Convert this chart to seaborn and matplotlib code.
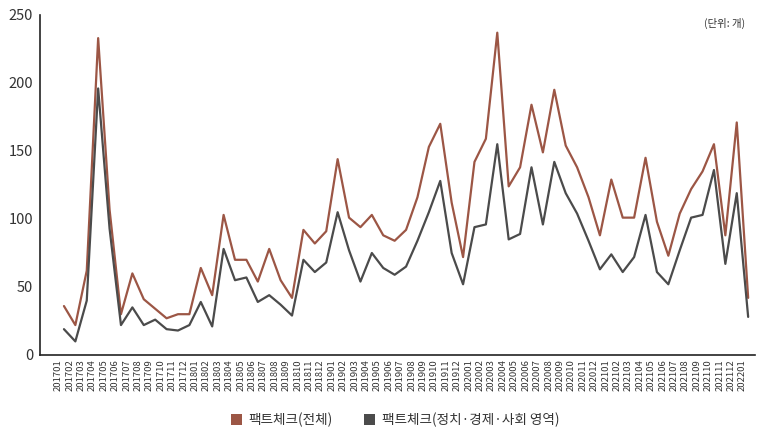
import numpy as np
import pandas as pd
import matplotlib
matplotlib.use("Agg")
import matplotlib.pyplot as plt
from matplotlib.patches import Patch
import seaborn as sns

# monthly labels 201701 .. 202201
months = [f"{y}{m:02d}" for y in range(2017, 2022) for m in range(1, 13)] + ["202201"]

total = [36, 22, 62, 233, 107, 30, 60, 41, 34, 27, 30, 30,
         64, 44, 103, 70, 70, 54, 78, 55, 42, 92, 82, 91,
         144, 101, 94, 103, 88, 84, 92, 116, 153, 170, 112, 72,
         142, 159, 237, 124, 138, 184, 149, 195, 154, 138, 116, 88,
         129, 101, 101, 145, 98, 73, 104, 122, 135, 155, 88, 171,
         42]

politics = [19, 10, 40, 196, 93, 22, 35, 22, 26, 19, 18, 22,
            39, 21, 78, 55, 57, 39, 44, 37, 29, 70, 61, 68,
            105, 77, 54, 75, 64, 59, 65, 84, 105, 128, 75, 52,
            94, 96, 155, 85, 89, 138, 96, 142, 119, 104, 84, 63,
            74, 61, 72, 103, 61, 52, 77, 101, 103, 136, 67, 119,
            28]

series_names = ["팩트체크(전체)", "팩트체크(정치·경제·사회 영역)"]
colors = ["#9c5645", "#4b4b4b"]

df = pd.DataFrame({
    "x": list(range(len(months))) * 2,
    "value": total + politics,
    "series": [series_names[0]] * len(months) + [series_names[1]] * len(months),
})

sns.set_style("white")
plt.rcParams["font.family"] = ["Noto Sans CJK KR", "DejaVu Sans"]

fig = plt.figure(figsize=(7.6, 4.34), dpi=100)
ax = fig.add_axes([40 / 760, 79 / 434, 715 / 760, 340 / 434])

sns.lineplot(data=df, x="x", y="value", hue="series", palette=colors,
             linewidth=1.6, legend=False, ax=ax)

ax.set_xlim(-2.1, 60.6)
ax.set_ylim(0, 250)
ax.set_yticks([0, 50, 100, 150, 200, 250])
ax.set_xticks(np.arange(len(months)) - 0.5)
ax.set_xticklabels(months, rotation=90, fontsize=6.8, color="#333333")
ax.set_xlabel("")
ax.set_ylabel("")
ax.tick_params(axis="y", direction="in", length=16, width=1, colors="#222222",
               labelsize=10.5, labelcolor="#333333", pad=5)
ax.tick_params(axis="x", direction="in", length=7, width=0.8, colors="#222222",
               labelcolor="#333333", pad=3)
for s in ["top", "right"]:
    ax.spines[s].set_visible(False)
for s in ["left", "bottom"]:
    ax.spines[s].set_color("#222222")
    ax.spines[s].set_linewidth(1.2)

fig.text(745 / 760, 1 - 23 / 434, "(단위: 개)", ha="right", va="center",
         fontsize=7.5, color="#333333")

handles = [Patch(facecolor=c, edgecolor="none") for c in colors]
fig.legend(handles, series_names, loc="center", bbox_to_anchor=(0.52, 1 - 420 / 434),
           ncol=2, frameon=False, fontsize=9.8, handlelength=0.8, handleheight=0.8,
           columnspacing=2.3, handletextpad=0.5, labelcolor="#333333")

fig.savefig("out.png", dpi=100)
